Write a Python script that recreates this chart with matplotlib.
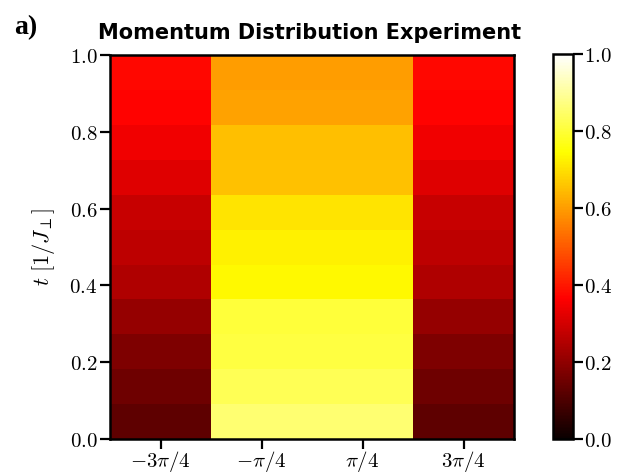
import numpy as np
import matplotlib
matplotlib.use("Agg")
import matplotlib.pyplot as plt

plt.rcParams['mathtext.fontset'] = 'cm'

# momentum columns (k) and time rows
k_labels = [r'$\mathbf{-3}\pi\mathbf{/4}$', r'$\mathbf{-}\pi\mathbf{/4}$', r'$\pi\mathbf{/4}$', r'$\mathbf{3}\pi\mathbf{/4}$']
k_ticks = [-3*np.pi/4, -np.pi/4, np.pi/4, 3*np.pi/4]
t_vals = [0.0, 0.1, 0.2, 0.3, 0.4, 0.5, 0.6, 0.7, 0.8, 0.9, 1.0]

# values for each column, from t=0 (bottom) to t=1 (top)
col_m3 = [0.127, 0.152, 0.172, 0.208, 0.247, 0.269, 0.283, 0.319, 0.346, 0.368, 0.375]
col_m1 = [0.858, 0.831, 0.810, 0.802, 0.736, 0.724, 0.706, 0.655, 0.652, 0.607, 0.598]
col_p1 = [0.858, 0.831, 0.810, 0.802, 0.736, 0.724, 0.706, 0.655, 0.652, 0.607, 0.598]
col_p3 = [0.127, 0.152, 0.172, 0.208, 0.247, 0.269, 0.283, 0.319, 0.346, 0.368, 0.375]

y_ticks = [0.0, 0.2, 0.4, 0.6, 0.8, 1.0]
y_ticklabels = [r'$\mathbf{%.1f}$' % v for v in y_ticks]

data = np.column_stack([col_m3, col_m1, col_p1, col_p3])

fig = plt.figure(figsize=(6.25, 4.74), dpi=100)
ax = fig.add_axes([110/625, 35/474, 404/625, 384/474])
im = ax.imshow(data, cmap='hot', vmin=0, vmax=1, origin='lower',
               extent=[-np.pi, np.pi, 0, 1], aspect='auto', interpolation='nearest')

ax.set_xticks(k_ticks)
ax.set_xticklabels(k_labels, fontsize=15)
ax.set_yticks(y_ticks)
ax.set_yticklabels(y_ticklabels, fontsize=15)
ax.tick_params(direction='out', length=7, width=1.6, pad=2)
ax.tick_params(axis='x', pad=0)
for s in ax.spines.values():
    s.set_linewidth(1.8)

ax.set_ylabel(r'$\mathit{t}\ \mathbf{[1/}\mathit{J}_{\perp}\mathbf{]}$', fontsize=16, labelpad=9)

fig.text(310/625, 1 - 33/474, 'Momentum Distribution Experiment', ha='center', va='center',
         fontsize=15, fontweight='bold', family='DejaVu Sans')
fig.text(14/625, 1 - 28/474, 'a)', ha='left', va='center', fontsize=20,
         fontweight='bold', family='Liberation Serif')

cax = fig.add_axes([553/625, 35/474, 20/625, 385/474])
cb = fig.colorbar(im, cax=cax)
cb.set_ticks(y_ticks)
cb.set_ticklabels(y_ticklabels)
cb.ax.tick_params(labelsize=15, direction='out', length=7, width=1.6, pad=1)
cb.outline.set_linewidth(1.8)

fig.savefig('out.png', dpi=100)
